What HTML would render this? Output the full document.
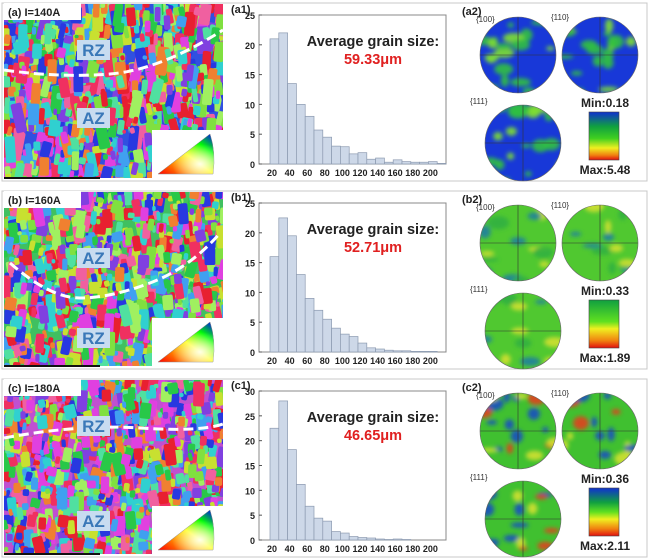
<!DOCTYPE html>
<html><head><meta charset="utf-8"><style>
html,body{margin:0;padding:0;background:#fff;width:650px;height:560px;overflow:hidden}
svg{display:block;font-family:"Liberation Sans",Arial,sans-serif}
</style></head><body>
<svg id="s" width="650" height="560" viewBox="0 0 650 560" xmlns="http://www.w3.org/2000/svg">
<defs>
<filter id="bl" x="-20%" y="-20%" width="140%" height="140%"><feGaussianBlur stdDeviation="2.2"/></filter>
<linearGradient id="ipf" x1="0" y1="1" x2="1" y2="0">
<stop offset="0" stop-color="#f00"/><stop offset="0.5" stop-color="#ff0"/><stop offset="0.75" stop-color="#0f0"/><stop offset="1" stop-color="#00f"/></linearGradient>
<radialGradient id="ipfw" cx="0.75" cy="0.75" r="0.5"><stop offset="0" stop-color="#fff" stop-opacity="0.9"/><stop offset="1" stop-color="#fff" stop-opacity="0"/></radialGradient>
<linearGradient id="cb1" x1="0" y1="0" x2="0" y2="1"><stop offset="0" stop-color="#1030d0"/><stop offset="0.3" stop-color="#10a040"/><stop offset="0.55" stop-color="#40d020"/><stop offset="0.75" stop-color="#f0f020"/><stop offset="0.9" stop-color="#f08010"/><stop offset="1" stop-color="#e01010"/></linearGradient>
<linearGradient id="cb2" x1="0" y1="0" x2="0" y2="1"><stop offset="0" stop-color="#10a040"/><stop offset="0.45" stop-color="#60e020"/><stop offset="0.6" stop-color="#f0f020"/><stop offset="0.85" stop-color="#f08010"/><stop offset="1" stop-color="#e01010"/></linearGradient>
<linearGradient id="cb3" x1="0" y1="0" x2="0" y2="1"><stop offset="0" stop-color="#1030d0"/><stop offset="0.3" stop-color="#10a040"/><stop offset="0.5" stop-color="#60e020"/><stop offset="0.65" stop-color="#f0f020"/><stop offset="0.85" stop-color="#f08010"/><stop offset="1" stop-color="#e01010"/></linearGradient>
</defs>
<g id="root"></g>
</svg>
<script>
var NS="http://www.w3.org/2000/svg",root=document.getElementById('root'),defs=document.querySelector('defs');
function el(t,a,p){var e=document.createElementNS(NS,t);for(var k in a)e.setAttribute(k,a[k]);(p||root).appendChild(e);return e;}
function txt(x,y,s,a){var e=el('text',Object.assign({x:x,y:y},a||{}));e.textContent=s;return e;}
var seed=7;function rnd(){seed=(seed*16807)%2147483647;return seed/2147483647;}
var cols=["#e82030","#28c848","#2838e0","#e040e0","#30d0d0","#c8e030","#f08030","#8040e0","#80e040","#f060a0","#40a0f0","#50e0a0","#f03060","#a0f060"];
var rows=[
 {o:0,lab:"(a) I=140A",h:"(a1)",p:"(a2)",avg:"59.33\u03bcm",mx:25,
  v:[21,22,13.5,10,8,5.7,4.5,3,2.9,1.7,1.9,0.8,1,0.3,0.7,0.4,0.3,0.3,0.4,0.1],
  z1:["RZ",40],z2:["AZ",108],curve:"M4,70 Q60,78 110,74 T223,30",elong:2.2,base:"#3050e0",mn:"Min:0.18",mxl:"Max:5.48",cb:"cb1",
  pf:"#1838d8",blob:["#30c040","#80e030","#30c040"],nb:18},
 {o:188,lab:"(b) I=160A",h:"(b1)",p:"(b2)",avg:"52.71\u03bcm",mx:25,
  v:[16,22.5,19.5,13,9,7,5.5,4,3,2.6,1.5,0.7,0.5,0.3,0.2,0.2,0.1,0.1,0.1,0],
  z1:["AZ",60],z2:["RZ",140],curve:"M10,75 Q50,110 80,110 T150,95 T220,45",elong:1.6,base:"#40c060",mn:"Min:0.33",mxl:"Max:1.89",cb:"cb2",
  pf:"#50c830",blob:["#2080a0","#d0e030","#30b040"],nb:14},
 {o:376,lab:"(c) I=180A",h:"(c1)",p:"(c2)",avg:"46.65\u03bcm",mx:30,
  v:[22.5,28,18.2,11.2,6.8,4.4,3.8,1.7,1.4,0.7,0.5,0.4,0.2,0.1,0.2,0.1,0,0,0,0],
  z1:["RZ",40],z2:["AZ",135],curve:"M4,62 Q80,48 140,52 T223,48",elong:1.4,base:"#c050d0",mn:"Min:0.36",mxl:"Max:2.11",cb:"cb3",
  pf:"#40c030",blob:["#1850c0","#d0e030","#e04020","#1850c0"],nb:18}
];
rows.forEach(function(R,ri){
 var o=R.o;
 el('rect',{x:2,y:o+3,width:645,height:178,fill:"none",stroke:"#c8c8c8","stroke-width":1});
 var cp=el('clipPath',{id:'mc'+ri},defs);el('rect',{x:4,y:o+4,width:219,height:174},cp);
 var g=el('g',{'clip-path':'url(#mc'+ri+')'});
 el('rect',{x:4,y:o+4,width:219,height:174,fill:R.base},g);
 for(var i=0;i<1100;i++){var w=3.5+rnd()*8,h=w*(0.8+rnd()*R.elong);var x=4+rnd()*225-w/2,y=o+4+rnd()*180-h/2;
  el('rect',{x:x.toFixed(1),y:y.toFixed(1),width:w.toFixed(1),height:h.toFixed(1),rx:2,fill:cols[Math.floor(rnd()*cols.length)],transform:'rotate('+((rnd()-0.5)*30).toFixed(0)+' '+(x+w/2).toFixed(1)+' '+(y+h/2).toFixed(1)+')'},g);}
 el('path',{d:R.curve.replace(/(\d+),(\d+)/g,function(m,a,b){return a+','+(+b+o);}),fill:"none",stroke:"#fff","stroke-width":3,"stroke-dasharray":"10 5"});
 el('rect',{x:4,y:o+3,width:77,height:17,fill:"#fff"});
 txt(8,o+16,R.lab,{"font-size":11,"font-weight":"bold",fill:"#222"});
 [R.z1,R.z2].forEach(function(z){el('rect',{x:77,y:o+z[1],width:33,height:20,fill:"#c8dcf0"});txt(93.5,o+z[1]+16,z[0],{"font-size":17,"font-weight":"bold",fill:"#3a78b8","text-anchor":"middle"});});
 el('rect',{x:152,y:o+130,width:71,height:48,fill:"#fff"});
 el('path',{d:"M158,"+(o+174)+" L213,"+(o+174)+" Q216,"+(o+152)+" 210,"+(o+134)+" Z",fill:"url(#ipf)",stroke:"#888","stroke-width":0.5});
 el('path',{d:"M158,"+(o+174)+" L213,"+(o+174)+" Q216,"+(o+152)+" 210,"+(o+134)+" Z",fill:"url(#ipfw)"});
 el('rect',{x:4,y:o+177,width:96,height:2,fill:"#111"});
 var top=o+15,bot=o+164,sc=(bot-top)/R.mx;
 txt(231,o+13,R.h,{"font-size":11,"font-weight":"bold",fill:"#222"});
 el('rect',{x:259,y:top,width:187,height:bot-top,fill:"#fff",stroke:"#888","stroke-width":1});
 R.v.forEach(function(v,k){if(v<=0)return;el('rect',{x:270+8.8*k,y:bot-v*sc,width:8.8,height:v*sc,fill:"#cdd8e8",stroke:"#8c9ab0","stroke-width":0.7});});
 for(var t=0;t<=R.mx;t+=5){var yy=bot-t*sc;txt(255,yy+4,String(t),{"font-size":9,"font-weight":"bold","text-anchor":"end",fill:"#222"});el('line',{x1:259,y1:yy,x2:262,y2:yy,stroke:"#555"});}
 for(var t=20;t<=200;t+=20){txt(272+(t-20)*0.88,bot+12,String(t),{"font-size":9,"font-weight":"bold","text-anchor":"middle",fill:"#222"});}
 txt(373,o+46,"Average grain size:",{"font-size":14.5,"font-weight":"bold","text-anchor":"middle",fill:"#222"});
 txt(373,o+64,R.avg,{"font-size":14.5,"font-weight":"bold","text-anchor":"middle",fill:"#e02020"});
 txt(462,o+15,R.p,{"font-size":11,"font-weight":"bold",fill:"#222"});
 [[518,55,"{100}",476,22],[600,55,"{110}",551,20],[523,143,"{111}",470,104]].forEach(function(c,ci){
  var cx=c[0],cy=o+c[1];
  var cc=el('clipPath',{id:'pc'+ri+'_'+ci},defs);el('circle',{cx:cx,cy:cy,r:38},cc);
  var pg=el('g',{'clip-path':'url(#pc'+ri+'_'+ci+')'});
  el('circle',{cx:cx,cy:cy,r:40,fill:R.pf},pg);
  var bg=el('g',{filter:'url(#bl)'},pg);
  for(var j=0;j<R.nb;j++){el('ellipse',{cx:cx+(rnd()-0.5)*76,cy:cy+(rnd()-0.5)*76,rx:3+rnd()*8,ry:2+rnd()*5,fill:R.blob[j%R.blob.length],opacity:0.9},bg);}
  el('line',{x1:cx-38,y1:cy,x2:cx+38,y2:cy,stroke:"#333","stroke-width":0.6},pg);
  el('line',{x1:cx,y1:cy-38,x2:cx,y2:cy+38,stroke:"#333","stroke-width":0.6},pg);
  el('circle',{cx:cx,cy:cy,r:38,fill:"none",stroke:"#666","stroke-width":0.6});
  txt(c[3],o+c[4],c[2],{"font-size":8,fill:"#333"});
 });
 txt(605,o+107,R.mn,{"font-size":12,"font-weight":"bold","text-anchor":"middle",fill:"#222"});
 el('rect',{x:589,y:o+112,width:30,height:48,fill:"url(#"+R.cb+")",stroke:"#444","stroke-width":0.6});
 txt(605,o+174,R.mxl,{"font-size":12,"font-weight":"bold","text-anchor":"middle",fill:"#222"});
});
</script>
</body></html>
